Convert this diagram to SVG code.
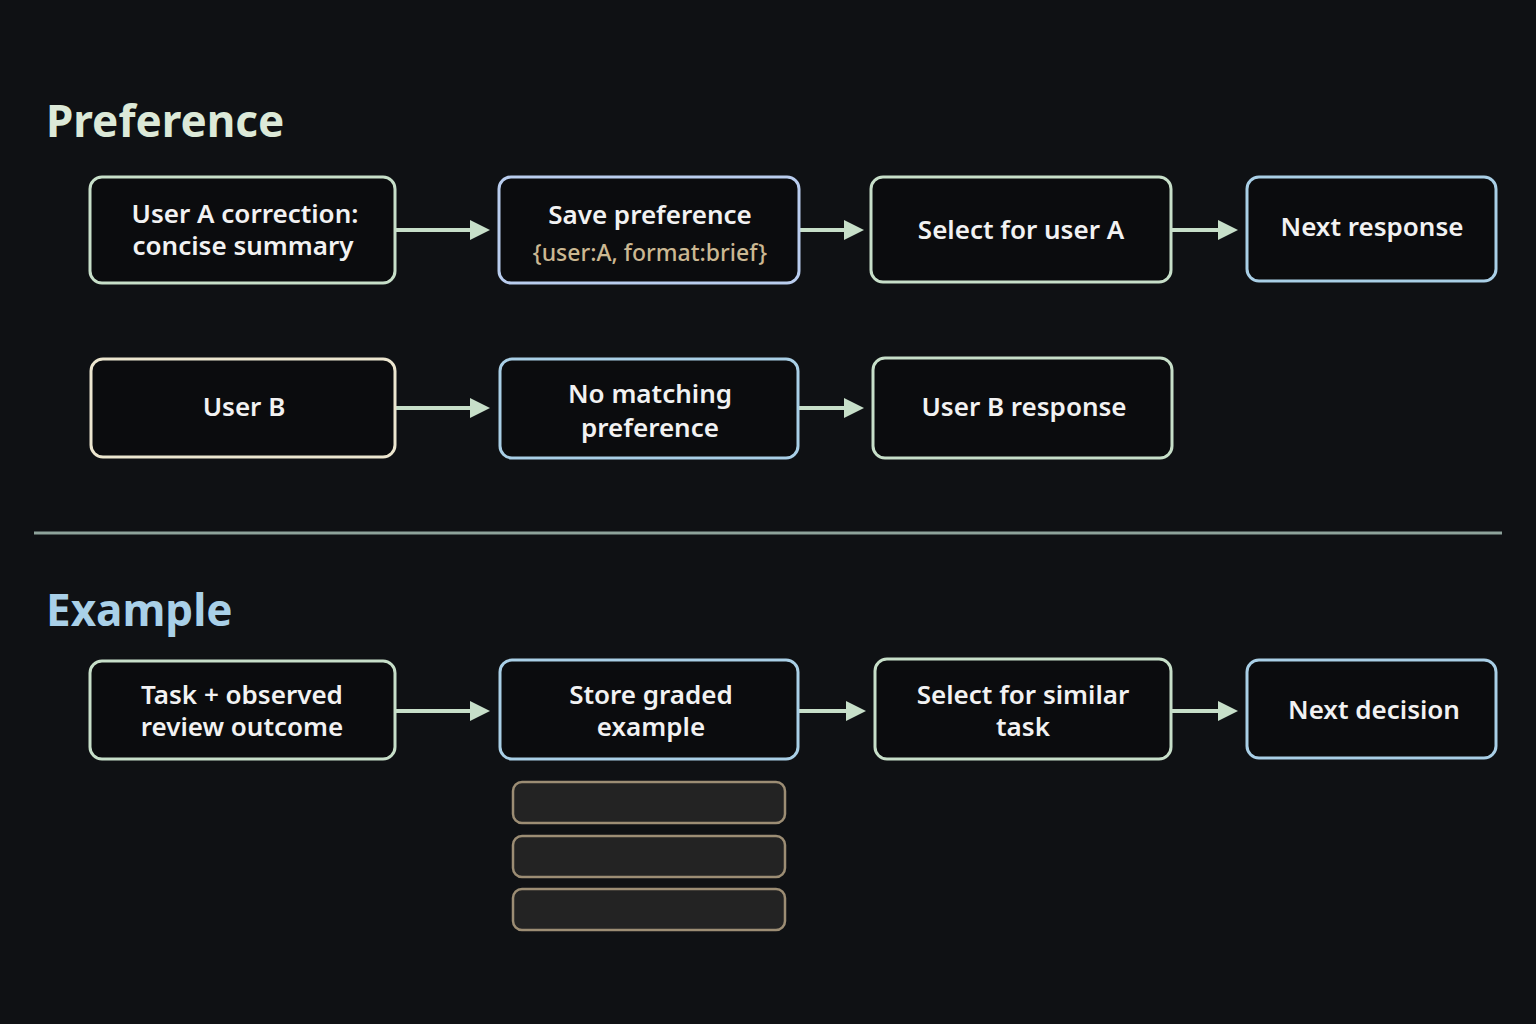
<svg xmlns="http://www.w3.org/2000/svg" width="1536" height="1024" viewBox="0 0 1536 1024">
<defs>
<style>
.n{fill:#0b0c0e;stroke-width:3}
.g{stroke:#c7dfc9}.b{stroke:#a9cfe6}.y{stroke:#ece6cf}.p{stroke:#b9cdee}
.t{font-family:"Noto Sans","Open Sans",sans-serif;font-size:26px;font-weight:600;fill:#f2f2f2;text-anchor:middle}
.c{stroke:#c7dfc9;stroke-width:4;fill:none;marker-end:url(#a)}
.s{fill:#232323;stroke:#9c8d74;stroke-width:2.5}
.h{font-family:"Noto Sans","Open Sans",sans-serif;font-size:44px;font-weight:700}
</style>
<marker id="a" markerWidth="5" markerHeight="5" refX="4" refY="2.5" orient="auto"><path d="M0,0L5,2.5L0,5Z" fill="#c7dfc9"/></marker>
</defs>
<rect width="1536" height="1024" fill="#0f1114"/>
<text class="h" x="46" y="137" fill="#dce9d8">Preference</text>
<text class="h" x="46" y="626" fill="#a9d0e8">Example</text>
<line x1="34" y1="533" x2="1502" y2="533" stroke="#8ea39b" stroke-width="3"/>
<g id="connectors">
<path class="c" d="M396,230H486"/><path class="c" d="M800,230H860"/><path class="c" d="M1172,230H1234"/>
<path class="c" d="M396,408H486"/><path class="c" d="M798,408H860"/>
<path class="c" d="M396,711H486"/><path class="c" d="M798,711H862"/><path class="c" d="M1172,711H1234"/>
</g>
<g id="n1"><rect class="n g" x="90" y="177" width="305" height="106" rx="12"/><text class="t" x="245" y="223">User A correction:</text><text class="t" x="243" y="255">concise summary</text></g>
<g id="n2"><rect class="n p" x="499" y="177" width="300" height="106" rx="12"/><text class="t" x="650" y="224">Save preference</text><text class="t" x="650" y="261" style="fill:#cbb892;font-weight:500;font-size:23px">{user:A, format:brief}</text></g>
<g id="n3"><rect class="n g" x="871" y="177" width="300" height="105" rx="12"/><text class="t" x="1021" y="239">Select for user A</text></g>
<g id="n4"><rect class="n b" x="1247" y="177" width="249" height="104" rx="12"/><text class="t" x="1372" y="236">Next response</text></g>
<g id="n5"><rect class="n y" x="91" y="359" width="304" height="98" rx="12"/><text class="t" x="244" y="416">User B</text></g>
<g id="n6"><rect class="n b" x="500" y="359" width="298" height="99" rx="12"/><text class="t" x="650" y="403">No matching</text><text class="t" x="650" y="437">preference</text></g>
<g id="n7"><rect class="n g" x="873" y="358" width="299" height="100" rx="12"/><text class="t" x="1024" y="416">User B response</text></g>
<g id="n8"><rect class="n g" x="90" y="661" width="305" height="98" rx="12"/><text class="t" x="242" y="704">Task + observed</text><text class="t" x="242" y="736">review outcome</text></g>
<g id="n9"><rect class="n b" x="500" y="660" width="298" height="99" rx="12"/><text class="t" x="651" y="704">Store graded</text><text class="t" x="651" y="736">example</text></g>
<g id="n10"><rect class="n g" x="875" y="659" width="296" height="100" rx="12"/><text class="t" x="1023" y="704">Select for similar</text><text class="t" x="1023" y="736">task</text></g>
<g id="n11"><rect class="n b" x="1247" y="660" width="249" height="98" rx="12"/><text class="t" x="1374" y="719">Next decision</text></g>
<g id="stack"><rect class="s" x="513" y="782" width="272" height="41" rx="9"/><rect class="s" x="513" y="836" width="272" height="41" rx="9"/><rect class="s" x="513" y="889" width="272" height="41" rx="9"/></g>
</svg>
